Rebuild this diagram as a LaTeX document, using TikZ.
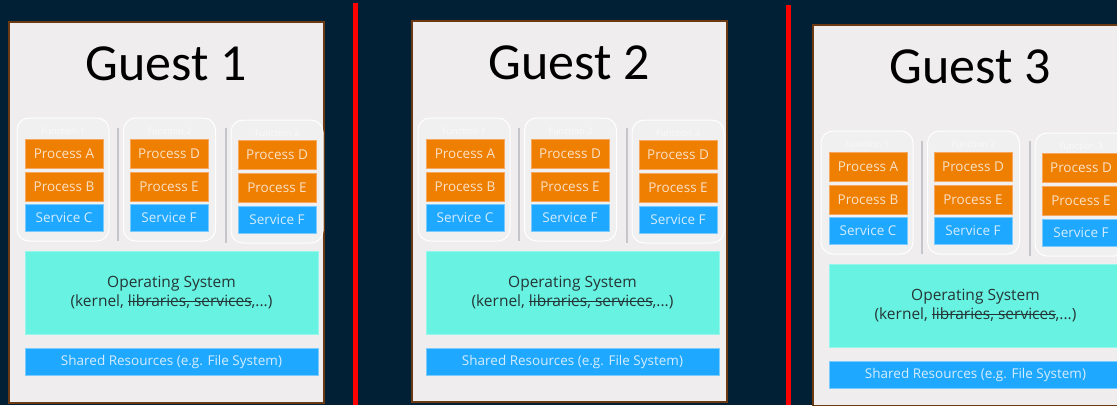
\documentclass[tikz,border=0pt]{standalone}
\usepackage{fontspec}
\setmainfont{Open Sans}
\newfontfamily\titlefont{Carlito}

\definecolor{bgnavy}{HTML}{012036}
\definecolor{guestgray}{HTML}{EFEDED}
\definecolor{guestbrown}{HTML}{6B3A12}
\definecolor{procorange}{HTML}{EE7F00}
\definecolor{procline}{HTML}{F6A860}
\definecolor{proctext}{HTML}{FBE2C8}
\definecolor{servblue}{HTML}{1FA8FF}
\definecolor{servline}{HTML}{7CCBFF}
\definecolor{servtext}{HTML}{D4ECFF}
\definecolor{osteal}{HTML}{68F2E2}
\definecolor{ostext}{HTML}{253535}
\definecolor{groupfill}{HTML}{F1F0F1}
\definecolor{sepgray}{HTML}{C4C6CA}
\definecolor{redline}{HTML}{FF0000}

\newcommand{\strk}[1]{\setbox0\hbox{#1}\rlap{\rule[0.33em]{\wd0}{0.7pt}}\box0}

\tikzset{
  guestframe/.style={draw=guestbrown, line width=2pt, fill=guestgray, inner sep=0pt,
    minimum width=315pt, minimum height=381pt},
  guesttitle/.style={font=\titlefont\fontsize{52}{56}\selectfont, text=black},
  fgroup/.style={draw=white, line width=1pt, fill=groupfill, rounded corners=12pt,
    inner sep=0pt, minimum width=92pt, minimum height=123pt},
  flabel/.style={font=\fontsize{9}{10}\selectfont, text=white!70!groupfill},
  proc/.style={draw=procline, line width=0.6pt, fill=procorange, text=proctext, inner sep=0pt,
    minimum width=78pt, minimum height=29pt, font=\fontsize{13.5}{15}\selectfont},
  serv/.style={proc, draw=servline, fill=servblue, text=servtext, minimum height=27pt},
  osbox/.style={draw=osteal!70!white, line width=0.6pt, fill=osteal, text=ostext, inner sep=0pt,
    minimum width=293pt, minimum height=83pt, align=center, font=\fontsize{15.5}{19}\selectfont},
  sharedbox/.style={serv, minimum width=293pt, minimum height=27pt, font=\fontsize{13.5}{15}\selectfont},
  sepline/.style={draw=sepgray, line width=1.2pt}
}

\newcommand{\guest}[4]{%
  \begin{scope}[shift={#2}]
    \node[guestframe] (#1) at (166.5,212.5) {};
    \node[guesttitle] (#1-title) at (166,64) {Guest #4};
  \end{scope}
  \begin{scope}[shift={#3}]
    \node[fgroup] (#1-f1) at (63,179.5) {};
    \node[fgroup] (#1-f2) at (169.5,179.5) {};
    \node[fgroup] (#1-f3) at (277,181.5) {};
    \node[flabel] (#1-l1) at (63,131) {Function 1};
    \node[flabel] (#1-l2) at (169.5,131) {Function 2};
    \node[flabel] (#1-l3) at (277,133) {Function 3};
    \node[proc] (#1-pa) at (64,153.5) {Process A};
    \node[proc] (#1-pb) at (64,186.5) {Process B};
    \node[serv] (#1-sc) at (64,217.5) {Service C};
    \node[proc] (#1-pd) at (169,153.5) {Process D};
    \node[proc] (#1-pe) at (169,186.5) {Process E};
    \node[serv] (#1-sf) at (169,217.5) {Service F};
    \node[proc] (#1-qd) at (277,155) {Process D};
    \node[proc] (#1-qe) at (277,188) {Process E};
    \node[serv] (#1-tf) at (277,219.5) {Service F};
    \draw[sepline] (118,128) -- (118,241);
    \draw[sepline] (226,128) -- (226,243);
    \node[osbox] (#1-os) at (171.5,292.5) {Operating System\\(kernel, \strk{libraries, services},...)};
    \node[sharedbox] (#1-sh) at (171.5,361.5) {Shared Resources (e.g. File System)};
  \end{scope}
}

\begin{document}
\begin{tikzpicture}[x=1pt,y=-1pt]
  \fill[bgnavy] (0,0) rectangle (1117,405);
  \clip (0,0) rectangle (1117,405);

  \guest{ga}{(0,0)}{(0,0)}{1}
  \guest{gb}{(403,-1)}{(401,0)}{2}
  \guest{gc}{(804,3)}{(804,13)}{3}

  \draw[redline, line width=5pt] (355,3) -- (355,405);
  \draw[redline, line width=5pt] (788,5) -- (788,405);
\end{tikzpicture}
\end{document}
